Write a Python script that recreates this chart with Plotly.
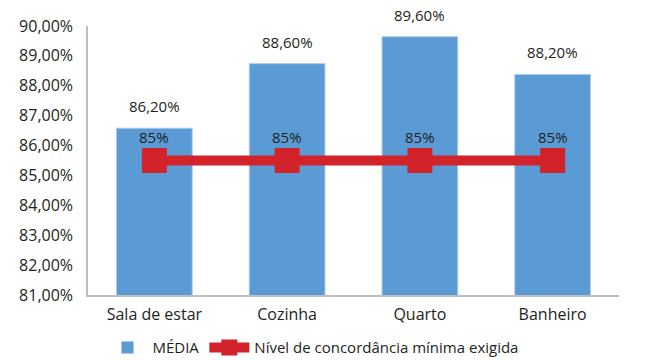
import plotly.graph_objects as go

categories = ["Sala de estar", "Cozinha", "Quarto", "Banheiro"]
media_values = [86.2, 88.6, 89.6, 88.2]
media_labels = ["86,20%", "88,60%", "89,60%", "88,20%"]
nivel_values = [85, 85, 85, 85]
nivel_labels = ["85%", "85%", "85%", "85%"]
# The original axis labels are evenly spread over an 80–90 range
y_tick_labels = ["81,00%", "82,00%", "83,00%", "84,00%", "85,00%",
                 "86,00%", "87,00%", "88,00%", "89,00%", "90,00%"]
y_min, y_max = 80, 90

FONT = "Open Sans"
TXT = "#231f20"
BLUE = "#5b9bd5"
RED = "#d2232a"

n = len(y_tick_labels)
tickvals = [y_min + i * (y_max - y_min) / (n - 1) for i in range(n)]

fig = go.Figure()
fig.add_trace(go.Bar(
    x=categories, y=media_values, name="MÉDIA",
    marker=dict(color=BLUE, line=dict(color="#a9c8ea", width=1)),
))
fig.add_trace(go.Scatter(
    x=categories, y=nivel_values, name="Nível de concordância mínima exigida",
    mode="lines+markers", line=dict(color=RED, width=10),
    marker=dict(color=RED, size=25, symbol="square"),
))
for c, v, t in zip(categories, media_values, media_labels):
    fig.add_annotation(x=c, y=v, text=t, showarrow=False, yshift=22,
                       font=dict(family=FONT, size=15, color=TXT))
for c, v, t in zip(categories, nivel_values, nivel_labels):
    fig.add_annotation(x=c, y=v, text=t, showarrow=False, yshift=24,
                       font=dict(family=FONT, size=15, color=TXT))

fig.update_layout(
    width=653, height=360,
    margin=dict(l=88, r=34, t=26, b=65, autoexpand=False),
    plot_bgcolor="white", paper_bgcolor="white",
    bargap=0.43,
    font=dict(family=FONT, size=15, color=TXT),
    showlegend=True,
    legend=dict(orientation="h", xref="container", yref="container",
                x=0.48, xanchor="center", y=0.08, yanchor="top",
                font=dict(family=FONT, size=15, color=TXT), itemwidth=40,
                traceorder="normal", bgcolor="rgba(0,0,0,0)"),
)
fig.update_yaxes(range=[y_min, y_max], tickvals=tickvals, ticktext=y_tick_labels,
                 showgrid=False, zeroline=False, showline=True, linecolor="#bfbfbf",
                 linewidth=1.5, ticks="", ticklabelstandoff=10,
                 tickfont=dict(family=FONT, size=16, color=TXT))
fig.update_xaxes(showgrid=False, showline=True, linecolor="#bfbfbf", linewidth=1.5,
                 ticks="", ticklabelstandoff=4,
                 tickfont=dict(family=FONT, size=16, color=TXT))

fig.write_html("out.html")
